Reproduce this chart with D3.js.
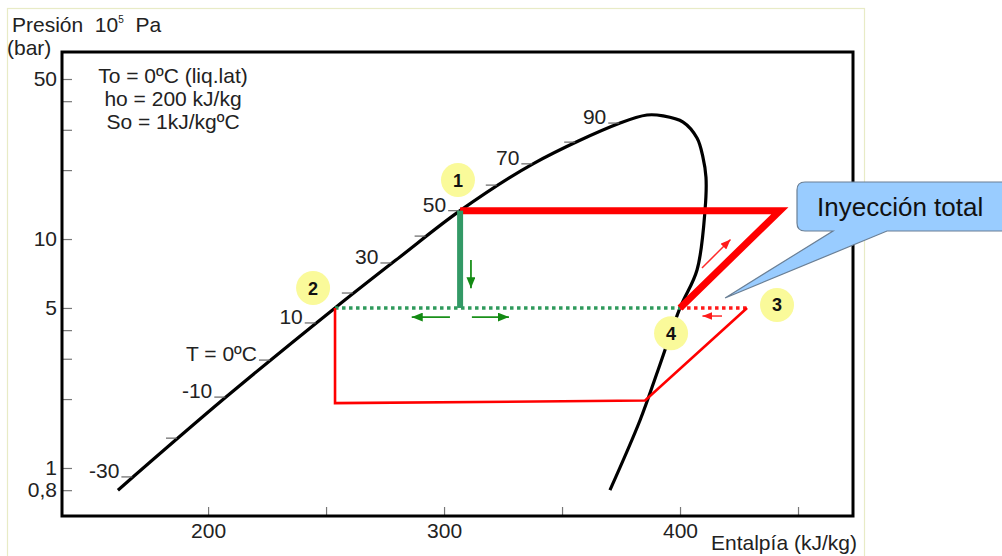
<!DOCTYPE html>
<html><head><meta charset="utf-8">
<script src="https://cdn.jsdelivr.net/npm/d3@7"></script>
<style>body{margin:0;background:#fff;} svg{display:block;font-family:"Liberation Sans",Arial,sans-serif;} text{white-space:pre;}</style>
</head><body><svg id="c" width="1002" height="556"></svg>
<script>
// ---- data ----
const xTicks = [200, 250, 300, 350, 400, 450];
const xTickLabels = ["200", "", "300", "", "400", ""];
const yTicks = [0.8, 1, 2, 3, 4, 5, 10, 20, 30, 40, 50];
const yTickLabels = ["0,8", "1", "", "", "", "5", "10", "", "", "", "50"];
const domeH = [161.8,207.6,253.8,281.3,306.8,337.7,374.6,386.0,392.8,401.3,407.2,409.7,411.0,410.6,407.2,400.0,390.7,383.1,370.3];
const domeP = [0.80,2.04,5.0,8.35,13.3,21.3,32.1,34.8,34.5,32.4,27.6,22.8,18.6,13.4,7.32,5.0,2.68,1.62,0.80];
const tempLabels = ["-30", "", "-10", "T = 0ºC", "10", "", "30", "", "50", "", "70", "", "90"];
const tempP = [0.914,1.35,2.04,2.96,4.30,5.81,7.86,10.3,13.3,17.2,21.3,26.5,32.1];
// cycle states
const stateH = {p1: 306.8, p2: 253.8, p3: 428.4, p4: 400.0, pTop: 442.3, pLowR: 385.2, pLowL: 253.8, p1b: 306.8};
const stateP = {p1: 13.3, p2: 5.0, p3: 5.0, p4: 5.0, pTop: 13.3, pLowR: 1.97, pLowL: 1.92, p1b: 5.0};
const badgeNames = ["1", "2", "3", "4"];
const badgeH = [305.9, 244.5, 441.1, 396.2];
const badgeP = [18.1, 6.11, 5.15, 3.88];
const infoLines = ["To = 0ºC (liq.lat)", "ho = 200 kJ/kg", "So = 1kJ/kgºC"];
const arrowsG = [[[311.4, 8.1], [311.4, 6.1]], [[302.5, 4.56], [286.3, 4.56]], [[311.8, 4.56], [327.5, 4.56]]];
const arrowsR = [[[409.3, 7.47], [421.4, 9.95]], [[417.8, 4.61], [409.5, 4.61]]];

// ---- layout ----
const L = 62, R = 853, T = 52, B = 516;
const svg = d3.select("#c");
const x = d3.scaleLinear().domain([138.1, 473.3]).range([L, R]);
const y = d3.scaleLog().domain([0.617, 65.6]).range([B, T]);

svg.append("rect").attr("x", 0).attr("y", 0).attr("width", 1002).attr("height", 556).attr("fill", "#fff");
svg.append("rect").attr("x", 7.5).attr("y", 8.5).attr("width", 857).attr("height", 580)
  .attr("fill", "#fff").attr("stroke", "#e8ebc6").attr("stroke-width", 1.2);

const txt = "#222";
const FF = "Liberation Sans, Arial, sans-serif";
const xAxis = d3.axisBottom(x).tickValues(xTicks).tickSize(-9).tickPadding(8)
  .tickFormat((d, i) => xTickLabels[i]);
const gx = svg.append("g").attr("transform", `translate(0,${B})`).call(xAxis);
gx.select(".domain").remove();
gx.selectAll("line").attr("stroke", "#777").attr("stroke-width", 1.2);
gx.selectAll("text").attr("font-size", 21).attr("fill", txt).attr("font-family", FF).attr("dy", "0.71em").attr("y", 7);

const yAxis = d3.axisLeft(y).tickValues(yTicks).tickSize(-10).tickPadding(5)
  .tickFormat((d, i) => yTickLabels[i]);
const gy = svg.append("g").attr("transform", `translate(${L},0)`).call(yAxis);
gy.select(".domain").remove();
gy.selectAll("line").attr("stroke", "#777").attr("stroke-width", 1.2);
gy.selectAll("text").attr("font-size", 21).attr("fill", txt).attr("font-family", FF).attr("x", -5);

svg.append("rect").attr("x", L).attr("y", T).attr("width", R - L).attr("height", B - T)
  .attr("fill", "none").attr("stroke", "#000").attr("stroke-width", 3);

const t1 = svg.append("text").attr("x", 12).attr("y", 32).attr("font-size", 21).attr("fill", txt);
t1.append("tspan").text("Presión\u00a0 10");
t1.append("tspan").attr("font-size", 10).attr("dy", -9).text("5");
t1.append("tspan").attr("dy", 9).text("\u00a0 Pa");
svg.append("text").attr("x", 7).attr("y", 55).attr("font-size", 21).attr("fill", txt).text("(bar)");
svg.append("text").attr("x", 711).attr("y", 550).attr("font-size", 21).attr("fill", txt).text("Entalpía (kJ/kg)");

svg.selectAll("text.info").data(infoLines).join("text").attr("class", "info")
  .attr("x", 173).attr("y", (d, i) => 83 + i * 23).attr("text-anchor", "middle")
  .attr("font-size", 21).attr("fill", txt).text(d => d);

// saturation dome
const dome = domeH.map((h, i) => [h, domeP[i]]);
const line = d3.line().x(d => x(d[0])).y(d => y(d[1])).curve(d3.curveCatmullRom.alpha(0.5));
const domePath = svg.append("path").attr("d", line(dome)).attr("fill", "none").attr("stroke", "#000").attr("stroke-width", 3.2);

// sample the liquid branch to place temperature ticks on it
const node = domePath.node();
const total = node.getTotalLength();
const samples = [];
for (let s = 0; s <= total; s += 0.5) { const p = node.getPointAtLength(s); samples.push(p); }
let peak = 0; samples.forEach((p, i) => { if (p.y < samples[peak].y) peak = i; });
const liquid = samples.slice(0, peak + 1);
function xOnLiquid(py) {
  for (const p of liquid) if (p.y <= py) return p.x;
  return liquid[liquid.length - 1].x;
}
const temps = tempP.map((p, i) => ({py: y(p), label: tempLabels[i]}));
temps.forEach(d => d.px = xOnLiquid(d.py));
svg.selectAll("line.tt").data(temps).join("line").attr("class", "tt")
  .attr("x1", d => d.px - 12).attr("x2", d => d.px - 1).attr("y1", d => d.py).attr("y2", d => d.py)
  .attr("stroke", "#666").attr("stroke-width", 1.2);
svg.selectAll("text.tl").data(temps.filter(d => d.label)).join("text").attr("class", "tl")
  .attr("x", d => d.px - 14).attr("y", d => d.py + 1).attr("text-anchor", "end")
  .attr("font-size", 21).attr("fill", txt).text(d => d.label);

const P = k => [x(stateH[k]), y(stateP[k])];
const pl = d3.line();

svg.append("path").attr("d", pl([P("p2"), P("p4")])).attr("stroke", "#2f9a5c").attr("stroke-width", 3.5)
  .attr("stroke-dasharray", "3.5,3.5").attr("fill", "none");
svg.append("path").attr("d", pl([P("p4"), P("p3")])).attr("stroke", "#ff1a1a").attr("stroke-width", 3.5)
  .attr("stroke-dasharray", "3.5,3.5").attr("fill", "none");
svg.append("path").attr("d", pl([P("p3"), P("pLowR"), P("pLowL"), P("p2")])).attr("stroke", "#ff0000")
  .attr("stroke-width", 2.6).attr("fill", "none").attr("stroke-linejoin", "miter");
svg.append("path").attr("d", pl([P("p4"), P("pTop"), P("p1")])).attr("stroke", "#ff0000")
  .attr("stroke-width", 7).attr("fill", "none").attr("stroke-linejoin", "miter");
svg.append("path").attr("d", pl([P("p1"), P("p1b")])).attr("stroke", "#339966")
  .attr("stroke-width", 6).attr("fill", "none");

const defs = svg.append("defs");
function marker(id, color, w, h) {
  defs.append("marker").attr("id", id).attr("viewBox", `0 0 ${w} ${h}`).attr("refX", w).attr("refY", h / 2)
    .attr("markerWidth", w).attr("markerHeight", h).attr("markerUnits", "userSpaceOnUse").attr("orient", "auto")
    .append("path").attr("d", `M0,0L${w},${h/2}L0,${h}Z`).attr("fill", color);
}
marker("ag", "#138a13", 11, 9);
marker("ar", "#ff1a1a", 10, 8);
svg.selectAll("path.ag").data(arrowsG).join("path").attr("class", "ag")
  .attr("d", d => pl(d.map(p => [x(p[0]), y(p[1])]))).attr("stroke", "#1a901a").attr("stroke-width", 1.8)
  .attr("fill", "none").attr("marker-end", "url(#ag)");
svg.selectAll("path.ar").data(arrowsR).join("path").attr("class", "ar")
  .attr("d", d => pl(d.map(p => [x(p[0]), y(p[1])]))).attr("stroke", "#ff2a2a").attr("stroke-width", 1.5)
  .attr("fill", "none").attr("marker-end", "url(#ar)");

const badges = badgeNames.map((n, i) => ({n, h: badgeH[i], p: badgeP[i]}));
const bg = svg.selectAll("g.badge").data(badges).join("g").attr("class", "badge")
  .attr("transform", d => `translate(${x(d.h)},${y(d.p)})`);
bg.append("circle").attr("r", 17).attr("fill", "#fafa9a");
bg.append("text").attr("text-anchor", "middle").attr("dy", "0.36em").attr("font-size", 18)
  .attr("font-weight", "bold").attr("fill", "#111").text(d => d.n);

const tip = [x(419.1), y(5.53)];
const callout = `M805,182H1012V231H887L${tip[0]},${tip[1]}L833,231H805Q797,231 797,223V190Q797,182 805,182Z`;
svg.append("path").attr("d", callout).attr("fill", "#99ccff").attr("stroke", "#6a7f95").attr("stroke-width", 1.2);
svg.append("text").attr("x", 817).attr("y", 216).attr("font-size", 26).attr("fill", "#111").text("Inyección total");
</script></body></html>
